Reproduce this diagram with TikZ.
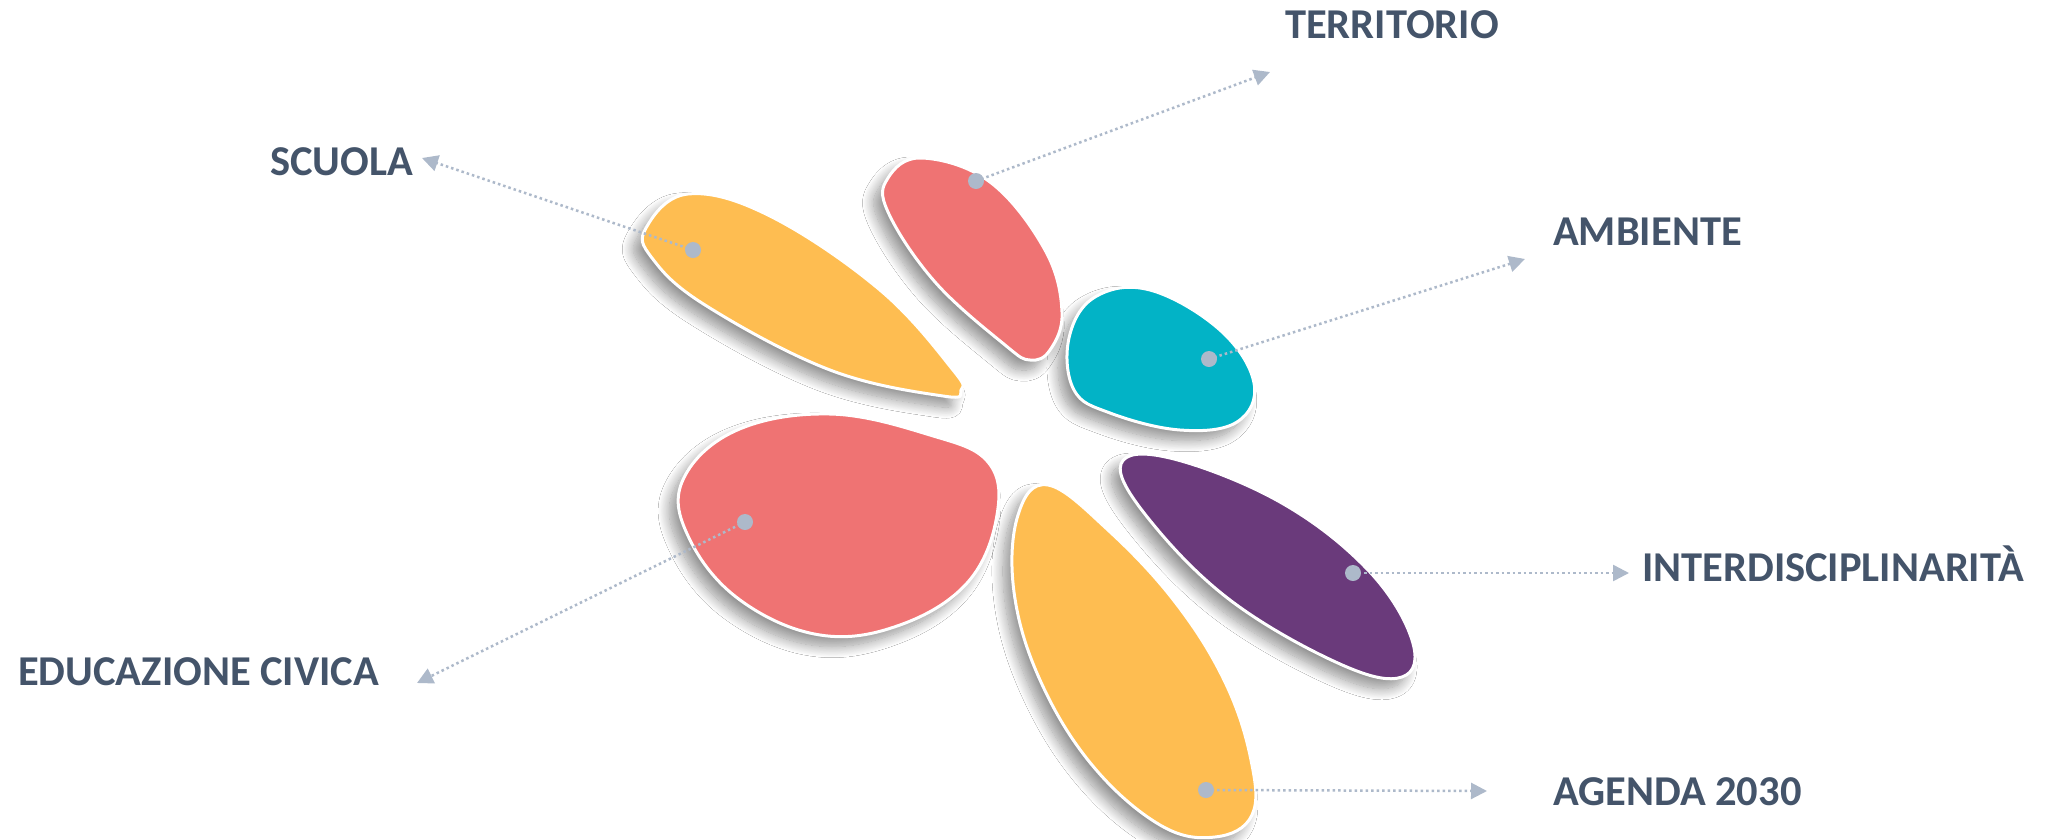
\documentclass[tikz,border=0pt]{standalone}
\usepackage{fontspec}
\setmainfont{Carlito}
\usetikzlibrary{arrows.meta,shadows.blur}
\definecolor{petYellow}{HTML}{FEBD51}
\definecolor{petRed}{HTML}{EF7373}
\definecolor{petTeal}{HTML}{02B3C6}
\definecolor{petPurple}{HTML}{6A3A7B}
\definecolor{labelText}{HTML}{44546A}
\definecolor{connGray}{HTML}{ADB9CA}
\tikzset{
  petal/.style={draw=white, line width=3pt},
  petalshadow/.style={blur shadow={shadow xshift=-9pt, shadow yshift=-10pt, shadow blur radius=11pt, shadow opacity=42, shadow blur steps=16}},
  lbl/.style={text=labelText, font=\fontsize{42.5}{50}\selectfont\bfseries, anchor=base west, inner sep=0pt},
  conn/.style={connGray, line width=2.5pt, dash pattern=on 2.5pt off 3pt, -{Triangle[length=16pt,width=16pt]}},
  hub/.style={circle, fill=connGray, minimum size=16pt, inner sep=0pt}
}
\newcommand\petScuola{plot[smooth cycle, tension=0.65] coordinates {(646,228) (688,194) (770,216) (880,290) (953,370) (961,390) (943,396) (830,370) (705,305) (652,258)}}
\newcommand\petTerritorio{plot[smooth cycle, tension=0.65] coordinates {(888,178) (922,158) (990,182) (1045,250) (1062,312) (1050,350) (1030,360) (1005,345) (935,282) (888,212)}}
\newcommand\petAmbiente{plot[smooth cycle, tension=0.65] coordinates {(1069,338) (1095,297) (1150,290) (1220,330) (1254,383) (1237,422) (1180,430) (1110,413) (1074,390)}}
\newcommand\petEducazione{plot[smooth cycle, tension=0.65] coordinates {(682,482) (735,431) (830,414) (930,435) (988,462) (997,515) (968,582) (900,625) (820,635) (740,600) (690,540)}}
\newcommand\petInter{plot[smooth cycle, tension=0.65] coordinates {(1121,464) (1170,458) (1280,502) (1368,570) (1412,640) (1402,677) (1340,664) (1230,600) (1148,518)}}
\newcommand\petAgenda{plot[smooth cycle, tension=0.65] coordinates {(1048,485) (1108,530) (1175,602) (1225,682) (1251,760) (1252,815) (1215,837) (1160,825) (1092,765) (1040,680) (1014,592) (1018,515)}}
\begin{document}
\begin{tikzpicture}[x=1pt,y=-1pt]
\useasboundingbox[fill=white] (0,0) rectangle (2048,839);
% shadows
\path[petalshadow] \petScuola;
\path[petalshadow] \petTerritorio;
\path[petalshadow] \petAmbiente;
\path[petalshadow] \petEducazione;
\path[petalshadow] \petInter;
\path[petalshadow] \petAgenda;
% petals
\path[petal, fill=petYellow] \petScuola;
\path[petal, fill=petRed] \petTerritorio;
\path[petal, fill=petTeal] \petAmbiente;
\path[petal, fill=petRed] \petEducazione;
\path[petal, fill=petPurple] \petInter;
\path[petal, fill=petYellow] \petAgenda;
% labels
\node[lbl] (lTerritorio) at (1285,38) {TERRITORIO};
\node[lbl] (lScuola) at (270,175) {SCUOLA};
\node[lbl] (lAmbiente) at (1553,245) {AMBIENTE};
\node[lbl] (lInter) at (1642,581) {INTERDISCIPLINARITÀ};
\node[lbl] (lEducazione) at (18,685) {EDUCAZIONE CIVICA};
\node[lbl] (lAgenda) at (1553,805) {AGENDA 2030};
% connector ends
\coordinate (dTerritorio) at (976,181);
\coordinate (dScuola) at (693,250);
\coordinate (dAmbiente) at (1209,359);
\coordinate (dInter) at (1353,573);
\coordinate (dEducazione) at (745,522);
\coordinate (dAgenda) at (1206,790);
\coordinate (tTerritorio) at (1270,72);
\coordinate (tScuola) at (422,158);
\coordinate (tAmbiente) at (1525,259);
\coordinate (tInter) at (1629,573);
\coordinate (tEducazione) at (417,683);
\coordinate (tAgenda) at (1487,791);
\draw[conn] (dTerritorio) -- (tTerritorio);
\draw[conn] (dScuola) -- (tScuola);
\draw[conn] (dAmbiente) -- (tAmbiente);
\draw[conn] (dInter) -- (tInter);
\draw[conn] (dEducazione) -- (tEducazione);
\draw[conn] (dAgenda) -- (tAgenda);
\node[hub] (hTerritorio) at (dTerritorio) {};
\node[hub] (hScuola) at (dScuola) {};
\node[hub] (hAmbiente) at (dAmbiente) {};
\node[hub] (hInter) at (dInter) {};
\node[hub] (hEducazione) at (dEducazione) {};
\node[hub] (hAgenda) at (dAgenda) {};
\end{tikzpicture}
\end{document}
